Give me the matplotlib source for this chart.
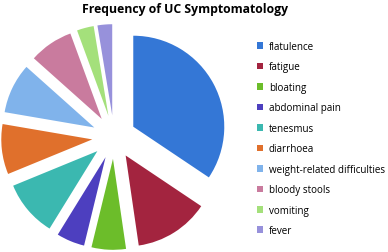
import matplotlib
matplotlib.use("Agg")
import matplotlib.pyplot as plt

# symptom frequencies (% of respondents)
symptoms = ["flatulence", "fatigue", "bloating", "abdominal pain", "tenesmus",
            "diarrhoea", "weight-related difficulties", "bloody stools",
            "vomiting", "fever"]
freq = [34.4, 13.3, 6.1, 5.0, 10.0, 8.9, 8.9, 7.8, 3.0, 2.6]
colors = ["#3477d6", "#a3243f", "#6cbd2a", "#4d3fbf", "#3bb8b0",
          "#e0702c", "#80b3eb", "#c97b9e", "#a4e07b", "#9791db"]

plt.rcParams["font.family"] = ["Open Sans", "DejaVu Sans"]

fig = plt.figure(figsize=(3.88, 2.53), dpi=100)
W, H = 388, 253
R = 91  # pixel radius
cx, cy = 114, 253 - 138
half = 1.3 * R
ax = fig.add_axes([(cx - half) / W, (cy - half) / H, 2 * half / W, 2 * half / H])

wedges, _ = ax.pie(freq, colors=colors, startangle=90, counterclock=False,
                   explode=[0.24] * len(freq),
                   wedgeprops=dict(linewidth=0))
ax.set_xlim(-1.3, 1.3)
ax.set_ylim(-1.3, 1.3)
ax.axis("off")

fig.text(185 / W, 1 - 9 / H, "Frequency of UC Symptomatology", ha="center",
         va="center", fontsize=8.8, fontweight="bold")

leg = fig.legend(wedges, symptoms, loc="upper left",
                 bbox_to_anchor=(257 / W, 1 - 42 / H), frameon=False,
                 fontsize=7.1, handlelength=0.65, handleheight=0.65,
                 handletextpad=0.55, labelspacing=0.96, borderaxespad=0,
                 borderpad=0)

fig.savefig("out.png", dpi=100)
